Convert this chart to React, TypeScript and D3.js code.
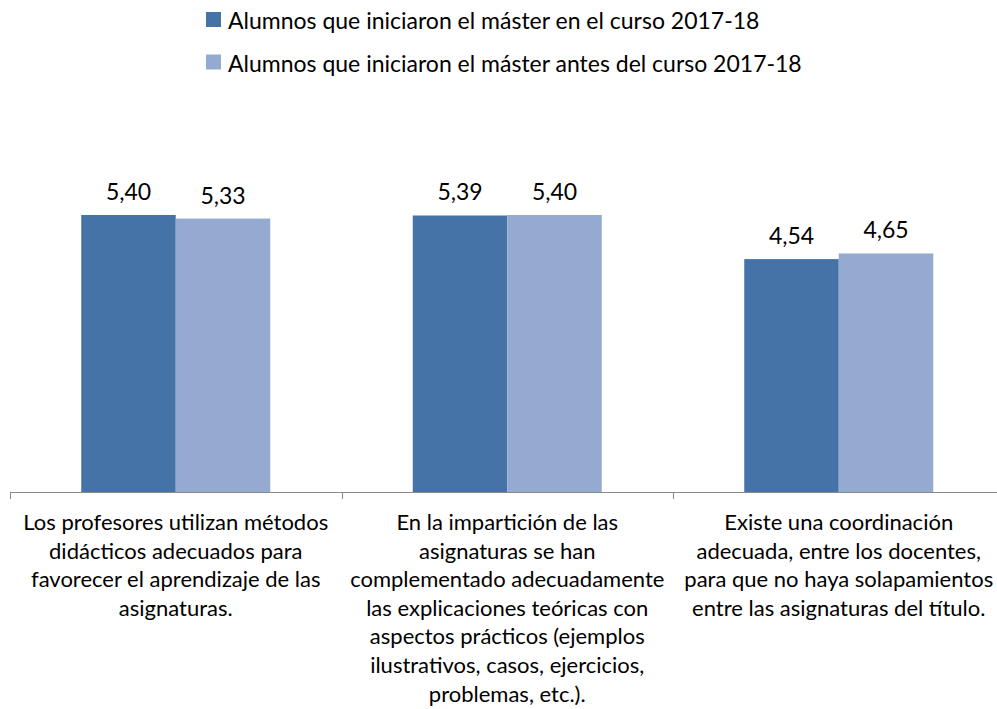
import React from "react";
import * as d3 from "d3";

const categories: string[][] = [
  ["Los profesores utilizan métodos", "didácticos adecuados para", "favorecer el aprendizaje de las", "asignaturas."],
  ["En la impartición de las", "asignaturas se han", "complementado adecuadamente", "las explicaciones teóricas con", "aspectos prácticos (ejemplos", "ilustrativos, casos, ejercicios,", "problemas, etc.)."],
  ["Existe una coordinación", "adecuada, entre los docentes,", "para que no haya solapamientos", "entre las asignaturas del título."],
];
const seriesNames = [
  "Alumnos que iniciaron el máster en el curso 2017-18",
  "Alumnos que iniciaron el máster antes del curso 2017-18",
];
const seriesA = [5.40, 5.39, 4.54];
const seriesB = [5.33, 5.40, 4.65];
const colors = ["#4573A7", "#95AAD0"];

const W = 997;
const H = 709;
const FONT = "Lato, 'Open Sans', sans-serif";

export default function App() {
  const x0 = d3.scaleBand<number>().domain([0, 1, 2]).range([10, 1004.5]).padding(0);
  const groupW = 189;
  const x1 = d3.scaleBand<number>().domain([0, 1]).range([0, groupW]).padding(0);
  const y = d3.scaleLinear().domain([0, 6]).range([492, 184.2]);
  const series = [seriesA, seriesB];
  const fmt = (v: number) => v.toFixed(2).replace(".", ",");
  const ticks = [0, 1, 2, 3].map((i) => 10 + i * x0.bandwidth());

  return (
    <svg width={W} height={H} style={{ display: "block", position: "absolute", left: 0, top: 0 }} fontFamily={FONT}>
      <rect width={W} height={H} fill="#fff" />
      {seriesNames.map((n, i) => (
        <g key={n} transform={`translate(206, ${12 + i * 42.5})`}>
          <rect width={15} height={15} fill={colors[i]} />
          <text x={22} y={8} dominantBaseline="central" fontSize={23} fill="#000">{n}</text>
        </g>
      ))}
      {categories.map((_, ci) => {
        const gx = (x0(ci) as number) + (x0.bandwidth() - groupW) / 2;
        return (
          <g key={ci}>
            {series.map((s, si) => {
              const v = s[ci];
              const bx = gx + (x1(si) as number);
              return (
                <g key={si}>
                  <rect x={bx} y={y(v)} width={x1.bandwidth()} height={y(0) - y(v)} fill={colors[si]} />
                  <text x={bx + x1.bandwidth() / 2} y={y(v) - 15} textAnchor="middle" fontSize={23} fill="#000">{fmt(v)}</text>
                </g>
              );
            })}
          </g>
        );
      })}
      <line x1={10} x2={1004.5} y1={492.5} y2={492.5} stroke="#898989" strokeWidth={1} />
      {ticks.map((t, i) => (
        <line key={i} x1={Math.round(t) + 0.5} x2={Math.round(t) + 0.5} y1={492} y2={499} stroke="#898989" strokeWidth={1} />
      ))}
      {categories.map((lines, ci) => {
        const cx = (x0(ci) as number) + x0.bandwidth() / 2;
        return (
          <text key={ci} textAnchor="middle" fontSize={22} fill="#000">
            {lines.map((l, li) => (
              <tspan key={li} x={cx} y={530 + li * 28.6}>{l}</tspan>
            ))}
          </text>
        );
      })}
    </svg>
  );
}
